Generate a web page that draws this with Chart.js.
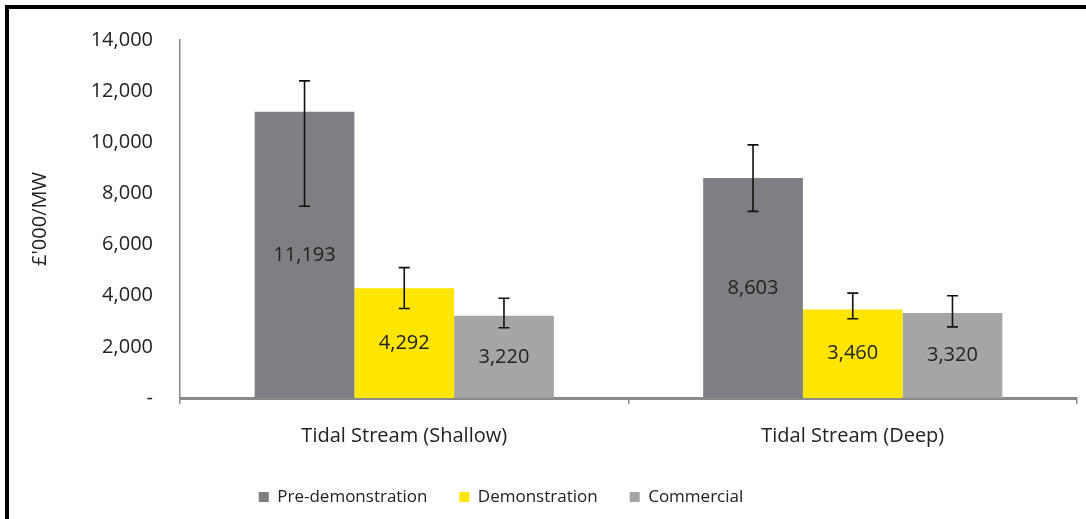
<!DOCTYPE html>
<html lang="en">

<head>
    <meta charset="UTF-8">
    <title>Tidal stream costs</title>
    <style>
        body {
            margin: 0;
            background: #fff;
        }

        #wrap {
            position: relative;
            width: 1086px;
            height: 519px;
        }

        #frame {
            position: absolute;
            left: 5px;
            top: 5px;
            right: -10px;
            bottom: -10px;
            border-left: 4px solid #000;
            border-top: 4px solid #000;
            pointer-events: none;
        }
    </style>
</head>

<body>
    <div id="wrap">
        <canvas id="myChart" width="1086" height="519"></canvas>
        <div id="frame"></div>
    </div>

    <script src="https://cdn.jsdelivr.net/npm/chart.js"></script>

    <script>
        // data
        const categories = ['Tidal Stream (Shallow)', 'Tidal Stream (Deep)'];
        const seriesNames = ['Pre-demonstration', 'Demonstration', 'Commercial'];
        const preDemo = [11193, 8603];
        const demo = [4292, 3460];
        const commercial = [3220, 3320];
        // error bar ranges (low / high), estimated
        const preDemoLow = [7500, 7300];
        const preDemoHigh = [12400, 9900];
        const demoLow = [3500, 3100];
        const demoHigh = [5100, 4100];
        const commercialLow = [2750, 2780];
        const commercialHigh = [3900, 4000];
        const yTicks = [0, 2000, 4000, 6000, 8000, 10000, 12000, 14000];

        const colors = ['#7f7e83', '#ffe600', '#a5a5a5'];
        const FONT = '"Open Sans", sans-serif';

        const ctx = document.getElementById('myChart');

        // whiskers drawn through the y scale
        const errorBars = {
            id: 'errorBars',
            afterDatasetsDraw(chart) {
                const c = chart.ctx;
                const y = chart.scales.y;
                c.save();
                c.strokeStyle = '#111';
                c.lineWidth = 1.6;
                chart.data.datasets.forEach((ds, i) => {
                    const meta = chart.getDatasetMeta(i);
                    meta.data.forEach((bar, j) => {
                        const top = y.getPixelForValue(ds.errHigh[j]);
                        const bot = y.getPixelForValue(ds.errLow[j]);
                        const x = bar.x;
                        c.beginPath();
                        c.moveTo(x, top);
                        c.lineTo(x, bot);
                        c.moveTo(x - 5.5, top);
                        c.lineTo(x + 5.5, top);
                        c.moveTo(x - 5.5, bot);
                        c.lineTo(x + 5.5, bot);
                        c.stroke();
                    });
                });
                c.restore();
            }
        };

        // value labels in the middle of each bar
        const barLabels = {
            id: 'barLabels',
            afterDatasetsDraw(chart) {
                const c = chart.ctx;
                c.save();
                c.font = '20px ' + FONT;
                c.fillStyle = '#222';
                c.textAlign = 'center';
                c.textBaseline = 'middle';
                chart.data.datasets.forEach((ds, i) => {
                    chart.getDatasetMeta(i).data.forEach((bar, j) => {
                        c.fillText(ds.data[j].toLocaleString('en-US'), bar.x, (bar.y + bar.base) / 2);
                    });
                });
                c.restore();
            }
        };

        // legend sits left of centre in the original
        const legendShift = {
            id: 'legendShift',
            afterLayout(chart) {
                chart.legend.right = 976;
            }
        };

        const myChart = new Chart(ctx, {
            type: 'bar',
            data: {
                labels: categories,
                datasets: [
                    { label: seriesNames[0], data: preDemo, errLow: preDemoLow, errHigh: preDemoHigh, backgroundColor: colors[0] },
                    { label: seriesNames[1], data: demo, errLow: demoLow, errHigh: demoHigh, backgroundColor: colors[1] },
                    { label: seriesNames[2], data: commercial, errLow: commercialLow, errHigh: commercialHigh, backgroundColor: colors[2] }
                ]
            },
            options: {
                responsive: false,
                animation: false,
                datasets: {
                    bar: {
                        categoryPercentage: 0.667,
                        barPercentage: 1.0,
                        borderWidth: 0
                    }
                },
                layout: {
                    padding: { left: 26, right: 9, top: 40, bottom: 3.5 }
                },
                scales: {
                    x: {
                        afterFit(s) { s.height = 58.5; },
                        grid: {
                            display: true,
                            drawOnChartArea: false,
                            drawTicks: true,
                            tickLength: 6,
                            color: '#8a8a8a',
                            lineWidth: 1.5
                        },
                        border: { display: true, color: '#8a8a8a', width: 3 },
                        ticks: {
                            font: { family: FONT, size: 20 },
                            color: '#222',
                            padding: 20
                        }
                    },
                    y: {
                        min: 0,
                        max: 14000,
                        afterFit(s) { s.width = 154; },
                        afterBuildTicks(s) { s.ticks = yTicks.map(v => ({ value: v })); },
                        grid: { display: false, drawTicks: false },
                        border: { display: true, color: '#8a8a8a', width: 1.5 },
                        ticks: {
                            font: { family: FONT, size: 20 },
                            color: '#222',
                            padding: 27,
                            callback: v => v === 0 ? '-' : v.toLocaleString('en-US')
                        },
                        title: {
                            display: true,
                            text: '£\'000/MW',
                            font: { family: FONT, size: 20 },
                            color: '#222',
                            padding: { top: 2, bottom: 0 }
                        }
                    }
                },
                plugins: {
                    legend: {
                        position: 'bottom',
                        labels: {
                            font: { family: FONT, size: 17 },
                            color: '#222',
                            boxWidth: 10,
                            boxHeight: 10,
                            padding: 32
                        }
                    },
                    tooltip: { enabled: false }
                }
            },
            plugins: [errorBars, barLabels, legendShift]
        });
    </script>

</body>

</html>
